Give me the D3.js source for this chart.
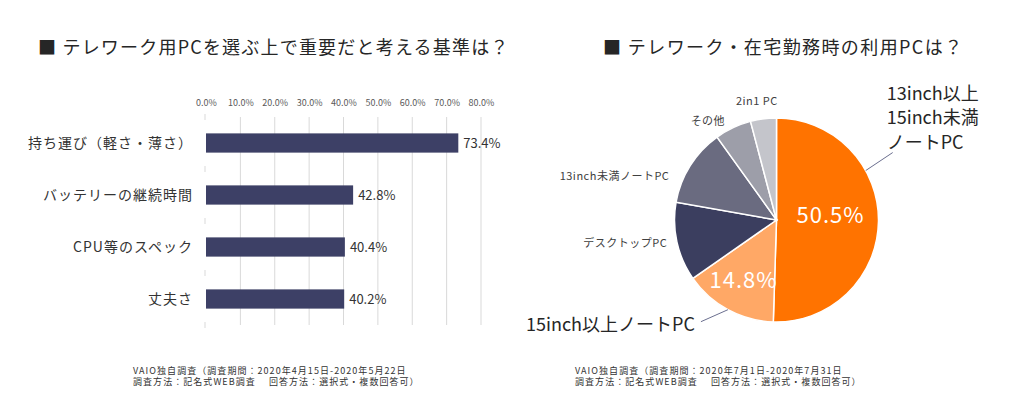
<!DOCTYPE html>
<html>
<head>
<meta charset="utf-8">
<script src="https://cdn.jsdelivr.net/npm/d3@7"></script>
<style>
  body { margin: 0; background: #fff; }
  svg text { font-family: "Noto Sans CJK JP", "Noto Sans", sans-serif; }
</style>
</head>
<body>
<div id="chart"></div>
<script>
// left chart: criteria for choosing a telework PC
const barTitle = "■ テレワーク用PCを選ぶ上で重要だと考える基準は？";
const barCategories = ["持ち運び（軽さ・薄さ）", "バッテリーの継続時間", "CPU等のスペック", "丈夫さ"];
const barValues = [73.4, 42.8, 40.4, 40.2];
const barTicks = [0, 10, 20, 30, 40, 50, 60, 70, 80];
const barNote = ["VAIO独自調査（調査期間：2020年4月15日-2020年5月22日", "調査方法：記名式WEB調査　 回答方法：選択式・複数回答可）"];

// right chart: PC used at home
const pieTitle = "■ テレワーク・在宅勤務時の利用PCは？";
const pieCategories = ["13inch以上15inch未満ノートPC", "15inch以上ノートPC", "デスクトップPC", "13inch未満ノートPC", "その他", "2in1 PC"];
const pieValues = [50.5, 14.8, 12.5, 12.3, 5.8, 4.1];
const pieColors = ["#ff7300", "#ffa866", "#3b3e5f", "#6a6b80", "#9d9ea9", "#c4c5cb"];
const pieNote = ["VAIO独自調査（調査期間：2020年7月1日-2020年7月31日", "調査方法：記名式WEB調査　 回答方法：選択式・複数回答可）"];

const W = 1024, H = 413;
const svg = d3.select("#chart").append("svg")
    .attr("width", W)
    .attr("height", H);

/* ---------- bar chart ---------- */
svg.append("text")
    .attr("x", 38).attr("y", 54)
    .attr("font-size", 18)
    .attr("letter-spacing", 1.2)
    .attr("fill", "#262626")
    .text(barTitle);

const x = d3.scaleLinear().domain([0, 80]).range([206, 481]);
const y = d3.scaleBand().domain(barCategories).range([117, 325])
    .paddingInner(0.63).paddingOuter(0.315);

// gridlines
svg.append("g").selectAll("line")
    .data(barTicks.filter(t => t > 0))
    .join("line")
    .attr("x1", d => x(d)).attr("x2", d => x(d))
    .attr("y1", 117).attr("y2", 325)
    .attr("stroke", "#d9d9d9").attr("stroke-width", 1);

// top axis labels
const xAxis = d3.axisTop(x).tickValues(barTicks).tickSize(0).tickFormat(d => d.toFixed(1) + "%");
const gx = svg.append("g").attr("transform", "translate(0,109)").call(xAxis);
gx.select(".domain").remove();
gx.selectAll("text").attr("font-size", 9).attr("fill", "#595959")
    .style("font-family", "\"Noto Sans CJK JP\", sans-serif");

// category boundary ticks
const bounds = d3.range(barCategories.length + 1).map(i => 117 + i * y.step());
svg.append("g").selectAll("line")
    .data(bounds)
    .join("line")
    .attr("x1", x(0) - 1).attr("x2", x(0) - 1)
    .attr("y1", d => d - 3).attr("y2", d => d + 3)
    .attr("stroke", "#d9d9d9");

// category labels
svg.append("g").selectAll("text")
    .data(barCategories)
    .join("text")
    .attr("x", 193)
    .attr("y", d => y(d) + y.bandwidth() / 2)
    .attr("dy", "0.36em")
    .attr("text-anchor", "end")
    .attr("font-size", 14)
    .attr("letter-spacing", 1)
    .attr("fill", "#333")
    .text(d => d);

// bars
svg.append("g").selectAll("rect")
    .data(barValues)
    .join("rect")
    .attr("x", x(0))
    .attr("y", (d, i) => y(barCategories[i]))
    .attr("width", d => x(d) - x(0))
    .attr("height", y.bandwidth())
    .attr("fill", "#3d4066");

// value labels
svg.append("g").selectAll("text")
    .data(barValues)
    .join("text")
    .attr("x", d => x(d) + 5)
    .attr("y", (d, i) => y(barCategories[i]) + y.bandwidth() / 2)
    .attr("dy", "0.36em")
    .attr("font-size", 13)
    .attr("fill", "#333")
    .text(d => d.toFixed(1) + "%");

// footnote
svg.append("g").selectAll("text")
    .data(barNote)
    .join("text")
    .attr("x", 133)
    .attr("y", (d, i) => 373.5 + i * 11.5)
    .attr("font-size", 9)
    .attr("letter-spacing", 1.05)
    .attr("fill", "#333")
    .text(d => d);

/* ---------- pie chart ---------- */
svg.append("text")
    .attr("x", 603).attr("y", 54)
    .attr("font-size", 18)
    .attr("letter-spacing", 1.4)
    .attr("fill", "#262626")
    .text(pieTitle);

const cx = 776.5, cy = 220, r = 102;
const pie = d3.pie().sort(null).value(d => d);
const arcs = pie(pieValues);
const arc = d3.arc().innerRadius(0).outerRadius(r);
const g = svg.append("g").attr("transform", `translate(${cx},${cy})`);

g.selectAll("path")
    .data(arcs)
    .join("path")
    .attr("d", arc)
    .attr("fill", (d, i) => pieColors[i])
    .attr("stroke", "#fff")
    .attr("stroke-width", 1.5);

const mid = d => (d.startAngle + d.endAngle) / 2;
const polar = (a, rad) => [rad * Math.sin(a), -rad * Math.cos(a)];

// inside percentage labels for the two biggest slices
[0, 1].forEach(i => {
    const p = polar(mid(arcs[i]), i === 0 ? r * 0.53 : r * 0.68);
    g.append("text")
        .attr("x", p[0]).attr("y", p[1])
        .attr("dy", i === 0 ? "0.1em" : "0.3em")
        .attr("text-anchor", "middle")
        .attr("font-size", 22)
        .attr("letter-spacing", 1)
        .attr("fill", "#fff")
        .text(pieValues[i].toFixed(1) + "%");
});

// small outside labels
const smallNudge = { 2: [4, -2], 3: [-9, 18], 4: [-2, 6], 5: [-4, 2] };
[2, 3, 4, 5].forEach(i => {
    const a = mid(arcs[i]);
    const p = polar(a, i === 5 ? r + 20 : r + 14);
    const n = smallNudge[i];
    g.append("text")
        .attr("x", p[0] + n[0]).attr("y", p[1] + n[1])
        .attr("dy", "0.35em")
        .attr("text-anchor", i === 5 ? "middle" : "end")
        .attr("font-size", 11)
        .attr("letter-spacing", 0.5)
        .attr("fill", "#404040")
        .text(pieCategories[i]);
});

// big slice label with leader
const lead0 = polar(arcs[0].startAngle + 61 * Math.PI / 180, r);
g.append("line")
    .attr("x1", lead0[0]).attr("y1", lead0[1])
    .attr("x2", lead0[0] + 27).attr("y2", lead0[1] - 18)
    .attr("stroke", "#6b6f8f");
const bigLines = ["13inch以上", "15inch未満", "ノートPC"];
g.append("g").selectAll("text")
    .data(bigLines)
    .join("text")
    .attr("x", lead0[0] + 21)
    .attr("y", (d, i) => lead0[1] - 71 + i * 24.5)
    .attr("font-size", 18)
    .attr("fill", "#262626")
    .text(d => d);

// 15inch label with leader
const lead1 = polar(mid(arcs[1]), r);
g.append("line")
    .attr("x1", lead1[0]).attr("y1", lead1[1])
    .attr("x2", lead1[0] - 27).attr("y2", lead1[1] + 12)
    .attr("stroke", "#6b6f8f");
g.append("text")
    .attr("x", lead1[0] - 33).attr("y", lead1[1] + 15)
    .attr("dy", "0.35em")
    .attr("text-anchor", "end")
    .attr("font-size", 18)
    .attr("fill", "#262626")
    .text(pieCategories[1]);

// footnote
svg.append("g").selectAll("text")
    .data(pieNote)
    .join("text")
    .attr("x", 575)
    .attr("y", (d, i) => 373.5 + i * 11.5)
    .attr("font-size", 9)
    .attr("letter-spacing", 1.05)
    .attr("fill", "#333")
    .text(d => d);
</script>
</body>
</html>
